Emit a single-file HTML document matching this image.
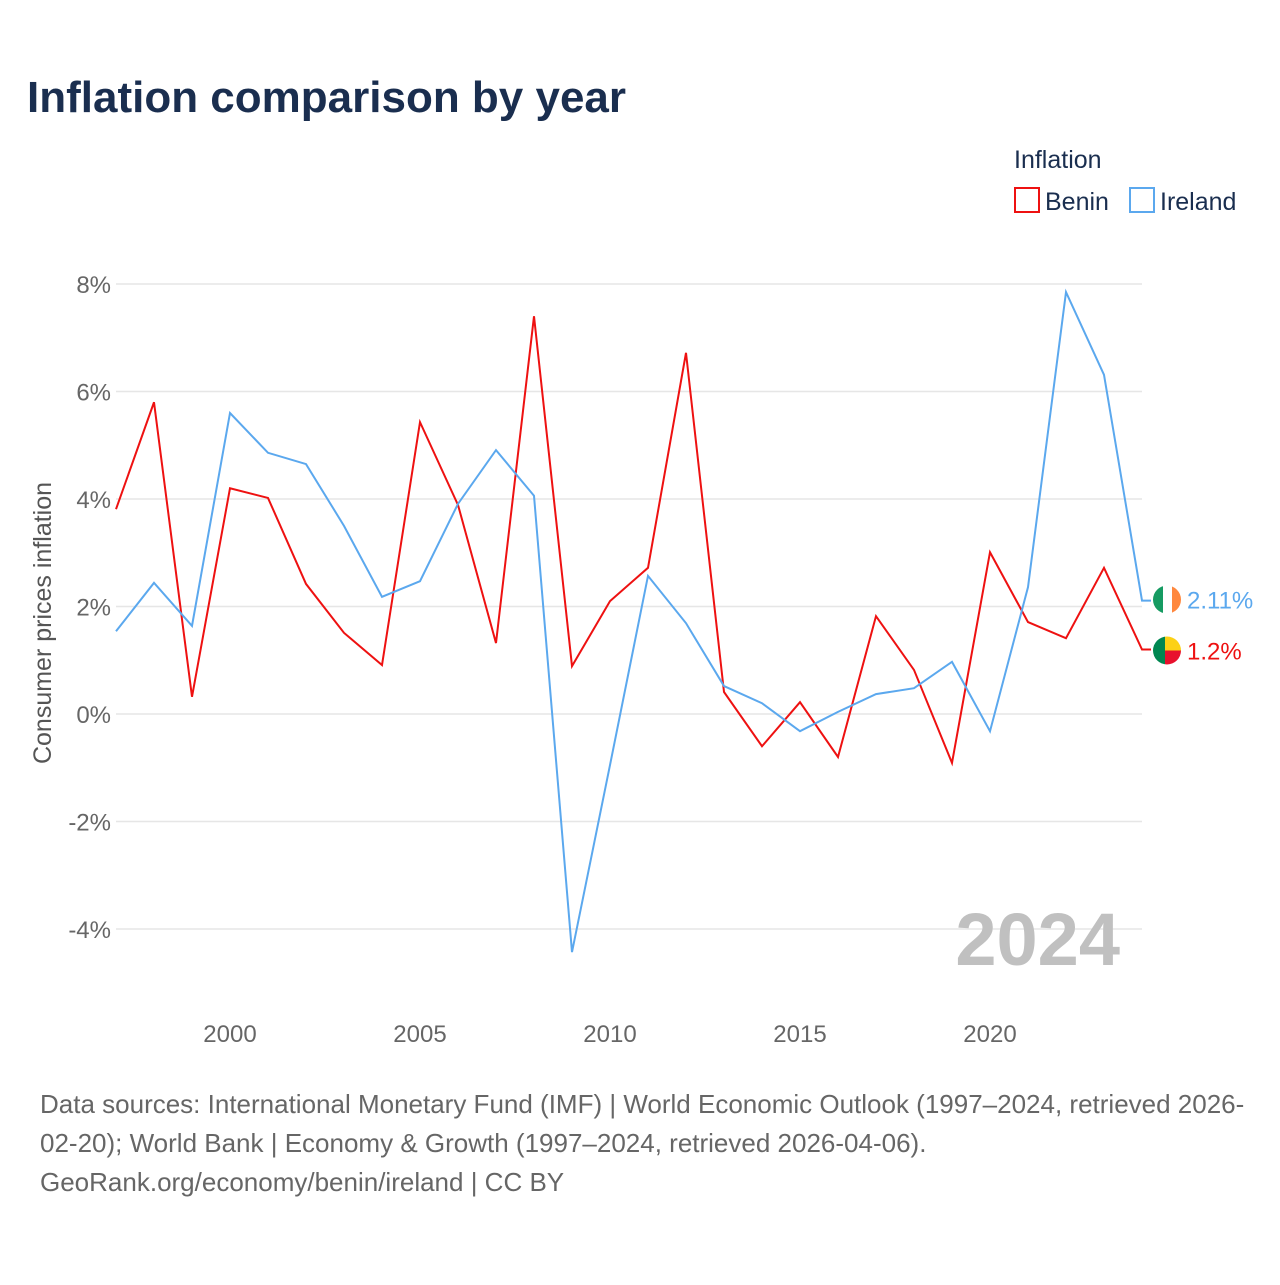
<!DOCTYPE html>
<html><head><meta charset="utf-8"><style>
body{margin:0;background:#fff;font-family:"Liberation Sans",sans-serif;}
</style></head><body>
<svg id="chart" width="1280" height="1280" xmlns="http://www.w3.org/2000/svg">
<text x="27" y="112" font-size="44" font-weight="bold" fill="#1a2e4f">Inflation comparison by year</text>
<text x="1014" y="168" font-size="25" fill="#1a2e4f">Inflation</text>
<g><rect x="1015" y="188" width="24" height="24" fill="none" stroke="#ee1111" stroke-width="2"/><text x="1045" y="210" font-size="25" fill="#1a2e4f">Benin</text></g>
<g><rect x="1130" y="188" width="24" height="24" fill="none" stroke="#5ba8ee" stroke-width="2"/><text x="1160" y="210" font-size="25" fill="#1a2e4f">Ireland</text></g>
<g id="grid"></g><g id="yt"></g><g id="xt"></g><g id="lines"></g><g id="ends"></g>
<text x="1120" y="965" font-size="74" font-weight="bold" fill="#c0c0c0" text-anchor="end">2024</text>
<text transform="translate(51,623) rotate(-90)" font-size="25" fill="#555" text-anchor="middle">Consumer prices inflation</text>
<g font-size="26" fill="#666">
<text x="40" y="1113">Data sources: International Monetary Fund (IMF) | World Economic Outlook (1997–2024, retrieved 2026-</text>
<text x="40" y="1152">02-20); World Bank | Economy &amp; Growth (1997–2024, retrieved 2026-04-06).</text>
<text x="40" y="1191">GeoRank.org/economy/benin/ireland | CC BY</text>
</g>
</svg>
<script>
const years=[1997,1998,1999,2000,2001,2002,2003,2004,2005,2006,2007,2008,2009,2010,2011,2012,2013,2014,2015,2016,2017,2018,2019,2020,2021,2022,2023,2024];
const benin=[3.81,5.80,0.32,4.20,4.02,2.42,1.51,0.91,5.43,3.89,1.32,7.40,0.89,2.10,2.72,6.72,0.41,-0.60,0.22,-0.80,1.82,0.82,-0.91,3.01,1.71,1.41,2.72,1.2];
const ireland=[1.54,2.44,1.64,5.60,4.86,4.65,3.50,2.18,2.47,3.91,4.91,4.06,-4.43,-0.95,2.57,1.69,0.52,0.20,-0.32,0.04,0.37,0.48,0.97,-0.32,2.36,7.85,6.31,2.11];
const yTicks=[-4,-2,0,2,4,6,8];
const xTicks=[2000,2005,2010,2015,2020];
const NS="http://www.w3.org/2000/svg";
const X=y=>116+(y-1997)*38;
const Y=v=>714-v*53.75;
function mk(t,a,p){const e=document.createElementNS(NS,t);for(const k in a)e.setAttribute(k,a[k]);p.appendChild(e);return e;}
const grid=document.getElementById('grid'),yt=document.getElementById('yt'),xt=document.getElementById('xt');
yTicks.forEach(v=>{
const l=mk('line',{x1:116,x2:1142,y1:Y(v),y2:Y(v),stroke:'#e6e6e6','stroke-width':1.5},grid);


const t=mk('text',{x:111,y:Y(v)+9,'font-size':24,fill:'#666','text-anchor':'end'},yt);
t.textContent=v+'%';


});
xTicks.forEach(v=>{
const t=mk('text',{x:X(v),y:1042,'font-size':24,fill:'#666','text-anchor':'middle'},xt);
t.textContent=v;


});
const lines=document.getElementById('lines'),ends=document.getElementById('ends');
function series(vals,color,name){
let d=vals.map((v,i)=>(i?'L':'M')+X(years[i])+','+Y(v)).join(' ');
const last=vals[vals.length-1];
d+=' L'+(X(2024)+9)+','+Y(last);
const p=mk('path',{d:d,fill:'none',stroke:color,'stroke-width':2},lines);


return last;
}
const lb=series(benin,'#ee1111','benin');
const li=series(ireland,'#5ba8ee','ireland');
function flag(cx,cy,cols,name){
const g=mk('g',{},ends);


const cp=mk('clipPath',{id:'c'+name},g);mk('circle',{cx:cx,cy:cy,r:14},cp);
const gg=mk('g',{'clip-path':'url(#c'+name+')'},g);
cols(gg,cx,cy);
}
flag(1167,Y(li)-1,(g,cx,cy)=>{mk('rect',{x:cx-14,y:cy-14,width:10,height:28,fill:'#169b62'},g);mk('rect',{x:cx-4,y:cy-14,width:9,height:28,fill:'#fff'},g);mk('rect',{x:cx+5,y:cy-14,width:10,height:28,fill:'#ff883e'},g);},'ireland');
flag(1167,Y(lb)+1,(g,cx,cy)=>{mk('rect',{x:cx-14,y:cy-14,width:12,height:28,fill:'#008751'},g);mk('rect',{x:cx-2,y:cy-14,width:16,height:14,fill:'#fcd116'},g);mk('rect',{x:cx-2,y:cy,width:16,height:14,fill:'#e8112d'},g);},'benin');
const ti=mk('text',{x:1187,y:Y(li)+8,'font-size':24,fill:'#5ba8ee'},ends);ti.textContent=li+'%';


const tb=mk('text',{x:1187,y:Y(lb)+10,'font-size':24,fill:'#ee1111'},ends);tb.textContent=lb+'%';


</script>
</body></html>
